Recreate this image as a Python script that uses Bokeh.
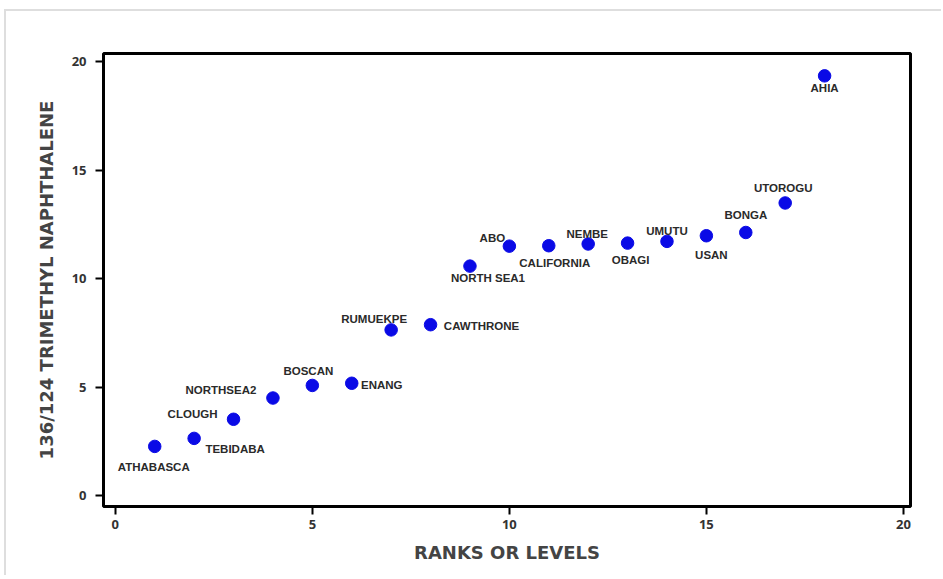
from bokeh.plotting import figure
from bokeh.models import ColumnDataSource, FixedTicker
from bokeh.core.properties import value
from bokeh.embed import file_html
from bokeh.resources import INLINE

# Data
ranks = [1, 2, 3, 4, 5, 6, 7, 8, 9, 10, 11, 12, 13, 14, 15, 16, 17, 18]
ratios = [2.27, 2.64, 3.52, 4.50, 5.08, 5.18, 7.64, 7.88, 10.58, 11.50,
          11.52, 11.60, 11.64, 11.72, 11.98, 12.13, 13.49, 19.35]
names = ["ATHABASCA", "TEBIDABA", "CLOUGH", "NORTHSEA2", "BOSCAN", "ENANG",
         "RUMUEKPE", "CAWTHRONE", "NORTH SEA1", "ABO", "CALIFORNIA", "NEMBE",
         "OBAGI", "UMUTU", "USAN", "BONGA", "UTOROGU", "AHIA"]
x_ticks = [0, 5, 10, 15, 20]
y_ticks = [0, 5, 10, 15, 20]

# Label offsets in screen pixels (style)
dx = [-1, 41, -41, -52, -4, 30, -17, 51, 18, -17, 6, -1, 3, 0, 5, 0, -2, 0]
dy = [21, 11, -5, -8, -14, 2, -11, 1, 12, -8, 17, -10, 17, -10, 19, -17, -15, 12]

src = ColumnDataSource(dict(x=ranks, y=ratios, name=names, dx=dx, dy=dy))

p = figure(width=937, height=566, output_backend="svg", toolbar_location=None,
           x_range=(-0.3, 20.18), y_range=(-0.5, 20.38),
           min_border_left=97, min_border_top=42, min_border_right=33,
           min_border_bottom=71)
p.styles = {"margin-left": "4px", "margin-top": "9px",
            "border-left": "2px solid #dedede", "border-top": "2px solid #dedede",
            "border-right": "none", "border-bottom": "none"}
p.grid.visible = False
p.outline_line_color = "black"
p.outline_line_width = 3
p.background_fill_color = "white"

p.scatter("x", "y", source=src, size=12.5, color="#0a0ae6")
p.text("x", "y", text="name", source=src, x_offset="dx", y_offset="dy",
       text_align="center", text_baseline="middle",
       text_font=value("Liberation Sans"), text_font_style="bold",
       text_font_size="11.5px", text_color="#2a2a2a")

for ax in (p.xaxis[0], p.yaxis[0]):
    ax.axis_line_color = None
    ax.major_tick_out = 8
    ax.major_tick_in = 0
    ax.major_tick_line_width = 2
    ax.minor_tick_line_color = None
    ax.major_label_text_font = "Open Sans"
    ax.major_label_text_font_size = "13px"
    ax.major_label_text_font_style = "bold"
    ax.major_label_text_color = "#333333"
    ax.axis_label_text_font = "DejaVu Sans"
    ax.axis_label_text_font_size = "18px"
    ax.axis_label_text_font_style = "bold"
    ax.axis_label_text_color = "#444444"

p.xaxis.ticker = FixedTicker(ticks=x_ticks)
p.yaxis.ticker = FixedTicker(ticks=y_ticks)
p.xaxis.axis_label = "RANKS OR LEVELS"
p.yaxis.axis_label = "136/124 TRIMETHYL NAPHTHALENE"
p.xaxis.major_label_standoff = 5
p.yaxis.major_label_standoff = 9
p.xaxis.axis_label_standoff = 10
p.yaxis.axis_label_standoff = 12

open("out.html", "w").write(file_html(p, INLINE))
